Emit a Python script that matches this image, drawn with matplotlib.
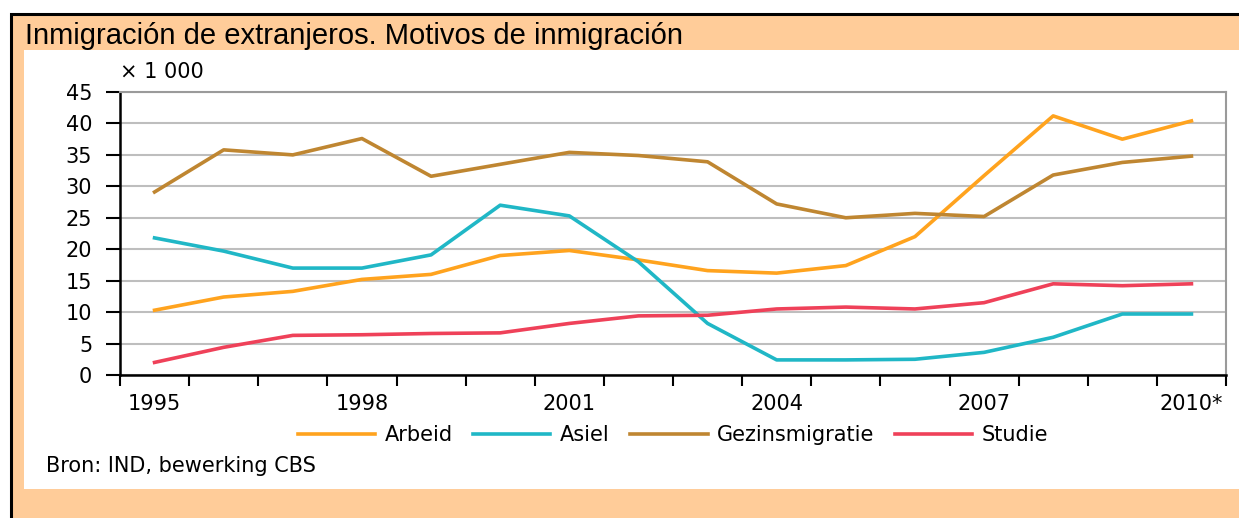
import matplotlib
matplotlib.use('Agg')
import matplotlib.pyplot as plt
from matplotlib.patches import Rectangle

years = list(range(1995, 2011))
tick_labels = ['1995', '1998', '2001', '2004', '2007', '2010*']

# thousands of immigrants per motive
arbeid = [10.3, 12.4, 13.3, 15.2, 16.0, 19.0, 19.8, 18.3, 16.6, 16.2, 17.4, 22.0, 31.7, 41.2, 37.5, 40.4]
asiel = [21.8, 19.7, 17.0, 17.0, 19.1, 27.0, 25.3, 18.0, 8.2, 2.4, 2.4, 2.5, 3.6, 6.0, 9.7, 9.7]
gezin = [29.1, 35.8, 35.0, 37.6, 31.6, 33.5, 35.4, 34.9, 33.9, 27.2, 25.0, 25.7, 25.2, 31.8, 33.8, 34.8]
studie = [2.0, 4.4, 6.3, 6.4, 6.6, 6.7, 8.2, 9.4, 9.5, 10.5, 10.8, 10.5, 11.5, 14.5, 14.2, 14.5]

series = [('Arbeid', arbeid, '#FFA31E'),
          ('Asiel', asiel, '#20B7C6'),
          ('Gezinsmigratie', gezin, '#BF8631'),
          ('Studie', studie, '#EF4159')]

W, H = 1239, 518
FS = 15
fig = plt.figure(figsize=(W / 100, H / 100), dpi=100, facecolor='white')

# orange frame with black border (top/left only visible)
fig.patches.append(Rectangle((10.5 / W, -0.1), 1.2, 1.1 - 14.5 / H, transform=fig.transFigure,
                             facecolor='#FFCC99', edgecolor='black', lw=2.2, zorder=-2))
fig.patches.append(Rectangle((24 / W, 1 - 489 / H), 1.0, (489 - 50) / H, transform=fig.transFigure,
                             facecolor='white', edgecolor='none', zorder=-1))

fig.text(25 / W, 1 - 36 / H, 'Inmigración de extranjeros. Motivos de inmigración',
         fontsize=21, family='Liberation Sans', va='center', ha='left')

ax = fig.add_axes([120 / W, 143 / H, 1106 / W, 283 / H])
ax.set_zorder(2)
ax.set_facecolor('none')
x = list(range(len(years)))
for name, vals, col in series:
    ax.plot(x, vals, color=col, lw=2.6, label=name)

ax.set_xlim(-0.5, len(years) - 0.5)
ax.set_ylim(0, 45)
ax.set_yticks(range(0, 46, 5))
ax.grid(axis='y', color='#BEBEBE', lw=1.5)
ax.set_axisbelow(True)

ax.set_xticks([years.index(int(t.rstrip('*'))) for t in tick_labels])
ax.set_xticklabels(tick_labels)
ax.set_xticks([i - 0.5 for i in range(len(years) + 1)], minor=True)
ax.tick_params(axis='x', which='major', length=0, pad=14, labelsize=FS)
ax.tick_params(axis='x', which='minor', length=8, width=1.5, direction='out')
ax.tick_params(axis='y', length=10, width=1.5, pad=10, labelsize=FS)

for s in ['left', 'bottom']:
    ax.spines[s].set_color('black')
    ax.spines[s].set_linewidth(1.8)
for s in ['top', 'right']:
    ax.spines[s].set_color('#9A9A9A')
    ax.spines[s].set_linewidth(1.5)

ax.legend(loc='center', bbox_to_anchor=(0.5, -0.212), ncol=4, frameon=False,
          fontsize=FS, handlelength=3.7, handletextpad=0.45, columnspacing=1.0)

fig.text(120 / W, 1 - 72 / H, '× 1 000', fontsize=FS, va='center', ha='left')
fig.text(46 / W, 1 - 466 / H, 'Bron: IND, bewerking CBS', fontsize=FS, va='center', ha='left')

fig.savefig('out.png', dpi=100)
